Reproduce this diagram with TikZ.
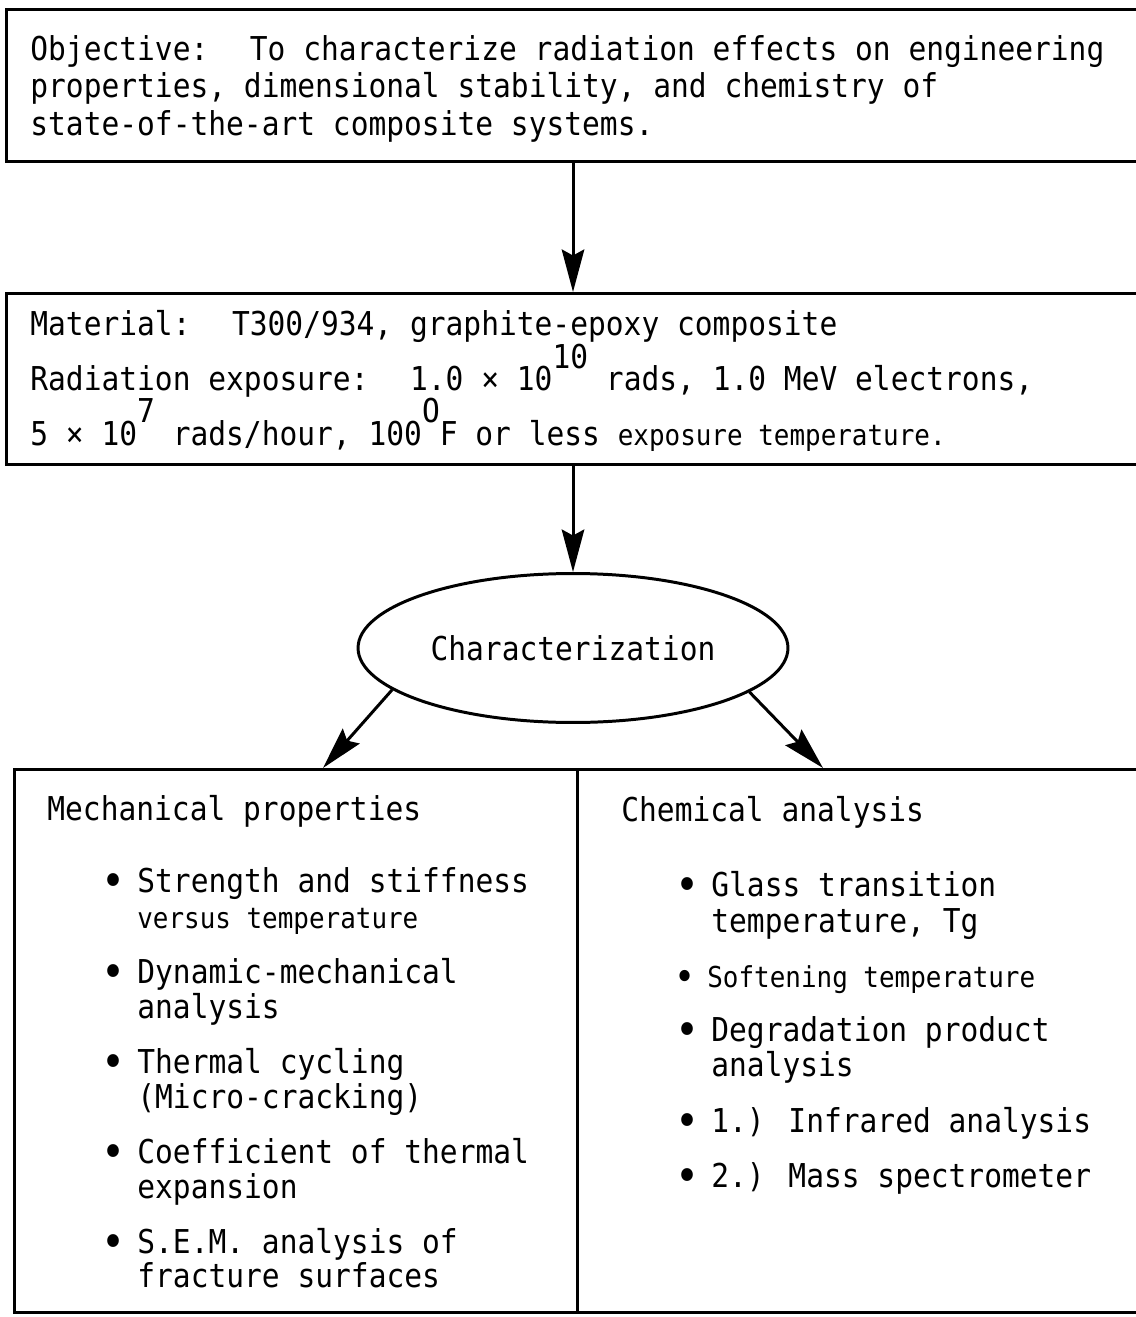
\documentclass[tikz,border=0pt]{standalone}
\usepackage{fontspec}
\usepackage{tikz}
\usetikzlibrary{arrows.meta, shapes.geometric}

\newfontfamily\typew[FakeStretch=0.9]{DejaVu Sans Mono}
\newcommand\bigfont{\typew\fontsize{18.7}{22}\selectfont}
\newcommand\smallfont{\typew\fontsize{16.4}{20}\selectfont}
\newcommand\supnum[1]{\raisebox{0.45cm}{#1}}
\newcommand\bul{\llap{\raisebox{-0.13em}{\scalebox{1.35}{\textbullet}}\hspace{0.24cm}}}

\tikzset{
    box/.style={draw, rectangle, line width=1.7pt, anchor=north west, inner sep=0pt},
    txt/.style={anchor=base west, inner sep=0pt, font=\bigfont},
    smalltxt/.style={anchor=base west, inner sep=0pt, font=\smallfont},
    flow/.style={-{Stealth[length=0.85cm, width=0.45cm, inset=0.12cm]}, line width=1.7pt}
}

\begin{document}
\begin{tikzpicture}[x=0.02cm, y=-0.02cm]
    \useasboundingbox (0,0) rectangle (1135,1317);

    % Boxes
    \node[box, minimum width=22.9cm, minimum height=3.04cm] (obj) at (5,8) {};
    \node[box, minimum width=22.9cm, minimum height=3.42cm] (mat) at (5,292) {};
    \node[box, minimum width=11.26cm, minimum height=10.86cm] (mech) at (13,768) {};
    \node[box, minimum width=11.48cm, minimum height=10.86cm] (chem) at (576,768) {};

    % Characterization ellipse
    \node[ellipse, draw, line width=1.7pt, minimum width=8.6cm, minimum height=2.98cm,
          inner sep=0pt, font=\bigfont] (chr) at (573,648) {Characterization};

    % Objective text
    \node[txt] (obj1) at (30,61) {Objective:~ To characterize radiation effects on engineering};
    \node[txt] (obj2) at (30,98) {properties, dimensional stability, and chemistry of};
    \node[txt] (obj3) at (30,136) {state-of-the-art composite systems.};

    % Material text
    \node[txt] (mat1) at (30,336) {Material:~ T300/934, graphite-epoxy composite};
    \node[txt] (mat2) at (30,391) {Radiation exposure:~ 1.0 × 10\supnum{10} rads, 1.0 MeV electrons,};
    \node[txt] (mat3) at (30,445) {5 × 10\supnum{7} rads/hour, 100\supnum{O}F or less {\smallfont exposure temperature.}};

    % Mechanical properties
    \node[txt] (mechhead) at (47,820) {Mechanical properties};
    \node[txt] (mech1a) at (137,892) {\bul Strength and stiffness};
    \node[smalltxt] (mech1b) at (137,928) {versus temperature};
    \node[txt] (mech2a) at (137,983) {\bul Dynamic-mechanical};
    \node[txt] (mech2b) at (137,1018) {analysis};
    \node[txt] (mech3a) at (137,1073) {\bul Thermal cycling};
    \node[txt] (mech3b) at (137,1108) {(Micro-cracking)};
    \node[txt] (mech4a) at (137,1163) {\bul Coefficient of thermal};
    \node[txt] (mech4b) at (137,1198) {expansion};
    \node[txt] (mech5a) at (137,1253) {\bul S.E.M. analysis of};
    \node[txt] (mech5b) at (137,1287) {fracture surfaces};

    % Chemical analysis
    \node[txt] (chemhead) at (621,821) {Chemical analysis};
    \node[txt] (chem1a) at (711,896) {\bul Glass transition};
    \node[txt] (chem1b) at (711,932) {temperature, Tg};
    \node[smalltxt] (chem2) at (707,987) {\bul Softening temperature};
    \node[txt] (chem3a) at (711,1041) {\bul Degradation product};
    \node[txt] (chem3b) at (711,1076) {analysis};
    \node[txt] (chem4) at (711,1132) {\bul 1.) Infrared analysis};
    \node[txt] (chem5) at (711,1187) {\bul 2.) Mass spectrometer};

    % Arrow ends on the split box
    \coordinate (mechin) at (323,768);
    \coordinate (chemin) at (823,768);

    % Arrows
    \draw[flow] (obj.south -| chr.north) -- (mat.north -| chr.north);
    \draw[flow] (mat.south -| chr.north) -- (chr.north);
    \draw[flow] (chr.193) -- (mechin);
    \draw[flow] (chr.346) -- (chemin);
\end{tikzpicture}
\end{document}
